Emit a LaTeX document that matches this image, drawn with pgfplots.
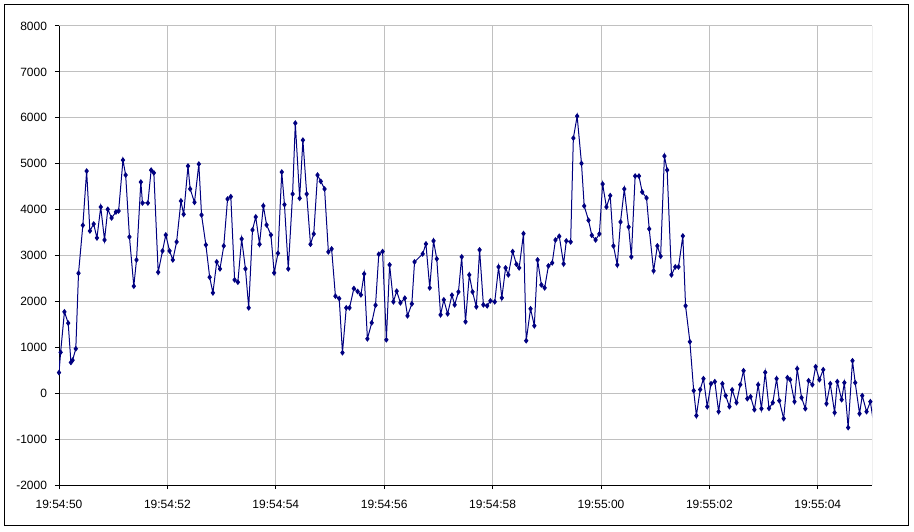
\documentclass[border=0pt]{standalone}
\usepackage{pgfplots}
\pgfplotsset{compat=1.18}
\usepackage{fontspec}
\setmainfont{Liberation Sans}
\definecolor{navy}{HTML}{000080}
\definecolor{gridgray}{HTML}{C0C0C0}
\begin{document}
\begin{tikzpicture}
\begin{axis}[
    scale only axis,
    width=609.75pt, height=344.25pt,
    xmin=0, xmax=15,
    ymin=-2000, ymax=8000,
    axis x line*=bottom, axis y line*=left,
    axis line style={black, line width=0.75pt, -},
    xtick={0,2,...,14},
    xticklabels={19:54:50,19:54:52,19:54:54,19:54:56,19:54:58,19:55:00,19:55:02,19:55:04},
    ytick={-2000,-1000,...,8000},
    yticklabels={-2000,-1000,0,1000,2000,3000,4000,5000,6000,7000,8000},
    tick align=outside,
    major tick length=3pt,
    tick style={black, line width=0.75pt},
    grid=major,
    major grid style={gridgray, line width=0.75pt},
    ticklabel style={font=\fontsize{9}{11}\selectfont},
    xticklabel style={yshift=-4.5pt},
    yticklabel style={xshift=-2.5pt},
]
\addplot[color=navy, line width=0.75pt, mark=diamond*, mark size=1.6pt] coordinates {
(-0.02,1000) (0.00,450) (0.03,890) (0.10,1773) (0.17,1527) (0.22,670) (0.25,720) (0.31,968)
(0.36,2614) (0.44,3658) (0.51,4840) (0.57,3535) (0.64,3687) (0.70,3383) (0.77,4057) (0.84,3339)
(0.90,4006) (0.97,3818) (1.05,3948) (1.10,3970) (1.18,5079) (1.23,4753) (1.30,3405) (1.38,2332)
(1.43,2904) (1.51,4601) (1.54,4144) (1.64,4144) (1.70,4860) (1.75,4800) (1.83,2636) (1.91,3100)
(1.97,3448) (2.04,3100) (2.10,2904) (2.17,3296) (2.25,4188) (2.30,3898) (2.38,4949) (2.42,4449)
(2.50,4159) (2.58,4992) (2.63,3883) (2.71,3231) (2.78,2527) (2.84,2186) (2.91,2861) (2.97,2709)
(3.04,3209) (3.11,4231) (3.17,4282) (3.24,2469) (3.30,2419) (3.37,3361) (3.44,2709) (3.50,1860)
(3.57,3557) (3.63,3840) (3.70,3245) (3.77,4082) (3.83,3666) (3.91,3448) (3.97,2622) (4.04,3049)
(4.11,4818) (4.16,4108) (4.23,2709) (4.31,4340) (4.36,5884) (4.44,4246) (4.50,5514) (4.57,4340)
(4.64,3245) (4.70,3470) (4.77,4753) (4.83,4615) (4.90,4449) (4.97,3078) (5.03,3143) (5.10,2114)
(5.17,2063) (5.23,882) (5.30,1860) (5.36,1860) (5.44,2281) (5.51,2216) (5.57,2143) (5.63,2600)
(5.69,1186) (5.77,1534) (5.84,1918) (5.90,3028) (5.97,3086) (6.04,1164) (6.10,2796) (6.17,1991)
(6.23,2223) (6.30,1969) (6.38,2070) (6.43,1686) (6.51,1947) (6.56,2861) (6.71,3035) (6.77,3252)
(6.84,2295) (6.91,3318) (6.97,2926) (7.04,1708) (7.10,2034) (7.17,1730) (7.25,2136) (7.30,1925)
(7.37,2208) (7.43,2970) (7.50,1556) (7.57,2578) (7.63,2208) (7.70,1882) (7.76,3122) (7.83,1925)
(7.90,1904) (7.96,2012) (8.04,1991) (8.11,2752) (8.17,2078) (8.24,2730) (8.29,2578) (8.37,3086)
(8.44,2810) (8.49,2730) (8.57,3477) (8.62,1143) (8.70,1839) (8.77,1469) (8.83,2904) (8.90,2360)
(8.96,2295) (9.03,2774) (9.10,2839) (9.16,3339) (9.23,3419) (9.31,2817) (9.36,3318) (9.44,3296)
(9.49,5558) (9.56,6036) (9.64,5007) (9.69,4079) (9.77,3767) (9.83,3441) (9.90,3339) (9.97,3470)
(10.03,4557) (10.10,4057) (10.17,4304) (10.23,3209) (10.30,2796) (10.36,3731) (10.43,4449) (10.51,3622)
(10.56,2970) (10.63,4731) (10.70,4731) (10.76,4383) (10.84,4253) (10.89,3579) (10.97,2665) (11.04,3209)
(11.10,2984) (11.17,5166) (11.22,4862) (11.30,2578) (11.37,2752) (11.43,2752) (11.51,3426) (11.56,1904)
(11.64,1121) (11.71,55) (11.76,-489) (11.83,79) (11.89,316) (11.96,-293) (12.03,207) (12.10,251)
(12.17,-402) (12.24,207) (12.30,-54) (12.37,-293) (12.42,73) (12.50,-206) (12.57,185) (12.63,490)
(12.70,-119) (12.76,-76) (12.83,-359) (12.90,185) (12.96,-337) (13.03,454) (13.10,-330) (13.17,-206)
(13.24,316) (13.29,-163) (13.37,-554) (13.44,338) (13.49,294) (13.57,-184) (13.62,533) (13.70,-97)
(13.77,-337) (13.83,272) (13.90,185) (13.96,577) (14.03,294) (14.10,512) (14.16,-228) (14.23,207)
(14.31,-424) (14.36,251) (14.44,-141) (14.49,229) (14.56,-750) (14.64,707) (14.69,229) (14.77,-446)
(14.82,-54) (14.90,-402) (14.97,-184) (15.02,-580)
};
\draw[gray, line width=0.75pt] (rel axis cs:1,0) -- (rel axis cs:1,1);
\end{axis}
% outer chart frame
\draw[black, line width=0.75pt]
    ([xshift=-40.5pt, yshift=-30.4pt]current axis.south west) rectangle
    ([xshift=27pt, yshift=15.75pt]current axis.north east);
\path[use as bounding box]
    ([xshift=-44.25pt, yshift=-34.5pt]current axis.south west) rectangle
    ([xshift=31.5pt, yshift=19.5pt]current axis.north east);
\end{tikzpicture}
\end{document}
